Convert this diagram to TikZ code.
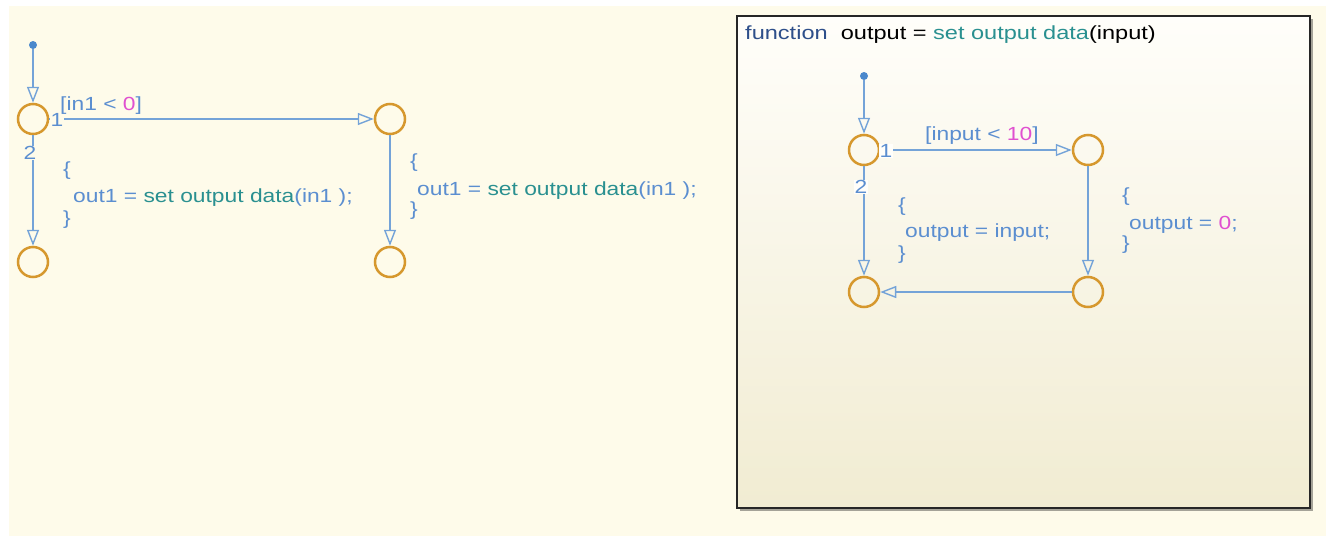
\documentclass[tikz,border=0pt]{standalone}
\usepackage{fontspec}
\setmainfont{Liberation Sans}[FakeStretch=1.2]
\newfontfamily\titlefont{Liberation Sans}[FakeStretch=1.24]
\usetikzlibrary{arrows.meta,shadows}
\definecolor{bgc}{HTML}{FEFBEA}
\definecolor{linec}{HTML}{74A3D8}
\definecolor{txtb}{HTML}{5B8ED0}
\definecolor{tealc}{HTML}{2A9090}
\definecolor{magc}{HTML}{E050D0}
\definecolor{orangec}{HTML}{D6982E}
\definecolor{dotc}{HTML}{4A88CC}
\definecolor{funcc}{HTML}{2E4F8A}
\definecolor{boxtop}{HTML}{FFFEFA}
\definecolor{boxbot}{HTML}{F1ECD2}
\newcommand{\fs}{\fontsize{19}{22}\selectfont}
\begin{document}
\begin{tikzpicture}[x=1pt,y=-1pt,
  state/.style={circle,draw=orangec,line width=2.5pt,minimum size=30pt,inner sep=0pt},
  trans/.style={draw=linec,line width=1.4pt,-{Triangle[open,length=16pt,width=12pt,line width=1.4pt]}},
  lbl/.style={font=\fs,text=txtb,inner sep=0.5pt},
  txt/.style={font=\fs,anchor=base west,inner sep=0pt,text=txtb},
  dotn/.style={circle,fill=dotc,inner sep=0pt,minimum size=8pt},
  fbox/.style={draw=black!85,line width=2.2pt,top color=boxtop,bottom color=boxbot,
    drop shadow={shadow xshift=3pt,shadow yshift=-3pt,opacity=0.35,fill=black},
    minimum width=573pt,minimum height=492pt,anchor=north west,inner sep=0pt}]
\useasboundingbox (0,0) rectangle (1326,536);
\fill[white] (0,0) rectangle (1326,536);
\fill[bgc] (9,6) rectangle (1326,536);

% left chart
\node[dotn] (d1) at (33,45) {};
\node[state] (a1) at (33,119) {};
\node[state] (a2) at (390,119) {};
\node[state] (a3) at (33,262) {};
\node[state] (a4) at (390,262) {};
\draw[trans] (d1) -- (a1);
\draw[trans] (a1) -- (a2);
\draw[trans] (a1) -- (a3);
\draw[trans] (a2) -- (a4);
\node[lbl,fill=bgc] (l1) at (57,120) {1};
\node[lbl,fill=bgc] (l2) at (30,153) {2};
\node[txt] (c1) at (60,110) {[in1 < \textcolor{magc}{0}]};
\node[txt] (b1) at (63,175) {\{};
\node[txt] (e1) at (73,202) {out1 = \textcolor{tealc}{set output data}(in1 );};
\node[txt] (b2) at (63,224) {\}};
\node[txt] (b3) at (410,167) {\{};
\node[txt] (e2) at (417,195) {out1 = \textcolor{tealc}{set output data}(in1 );};
\node[txt] (b4) at (410,215) {\}};

% function box
\node[fbox] (fb) at (736,15) {};
\node[txt,text=black,font=\titlefont\fs] (title) at (745,39) {\textcolor{funcc}{function}\ \ output = \textcolor{tealc}{set output data}(input)};
\node[dotn] (d2) at (864,76) {};
\node[state] (f1) at (864,150) {};
\node[state] (f2) at (1088,150) {};
\node[state] (f3) at (864,292) {};
\node[state] (f4) at (1088,292) {};
\draw[trans] (d2) -- (f1);
\draw[trans] (f1) -- (f2);
\draw[trans] (f1) -- (f3);
\draw[trans] (f2) -- (f4);
\draw[trans] (f4) -- (f3);
\node[lbl,fill=boxtop] (l3) at (886,151) {1};
\node[lbl,fill=boxtop] (l4) at (861,187) {2};
\node[txt] (c2) at (925,140) {[input < \textcolor{magc}{10}]};
\node[txt] (b5) at (898,211) {\{};
\node[txt] (e3) at (905,237) {output = input;};
\node[txt] (b6) at (898,259) {\}};
\node[txt] (b7) at (1122,201) {\{};
\node[txt] (e4) at (1129,229) {output = \textcolor{magc}{0};};
\node[txt] (b8) at (1122,249) {\}};
\end{tikzpicture}
\end{document}
